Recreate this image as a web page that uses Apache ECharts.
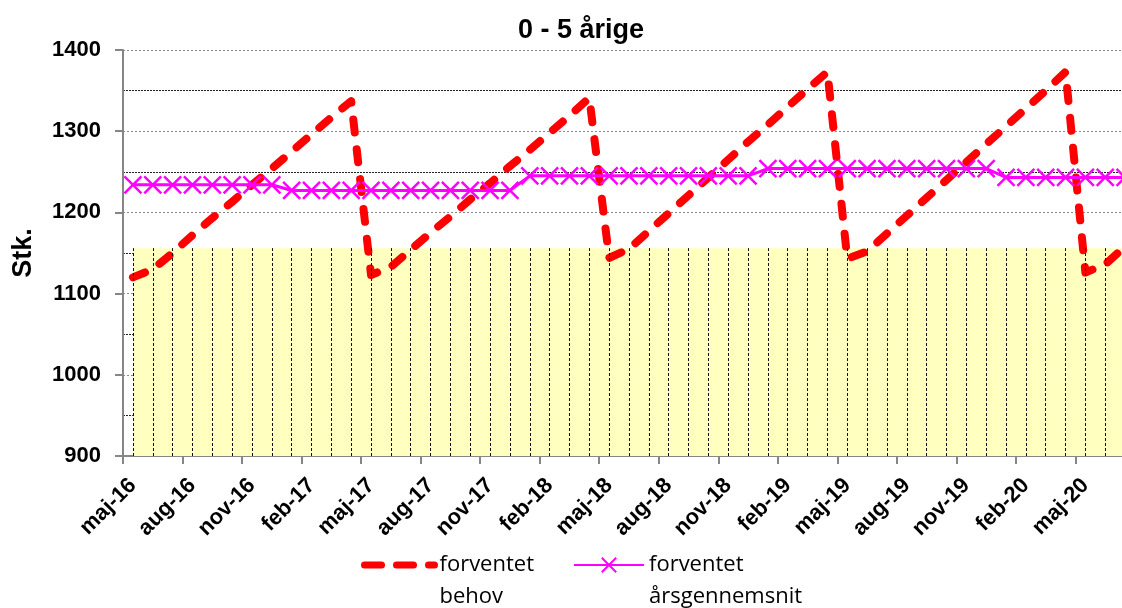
<!DOCTYPE html>
<html>
<head>
<meta charset="utf-8">
<script src="https://cdn.jsdelivr.net/npm/echarts@6/dist/echarts.min.js"></script>
<style>
  html, body { margin: 0; padding: 0; background: #ffffff; }
  #chart { width: 1122px; height: 608px; }
</style>
</head>
<body>
<div id="chart"></div>
<script>
// maaneder (kategorier) - sidste maaned ligger uden for billedet
const months = [
  "maj-16", "jun-16", "jul-16", "aug-16", "sep-16", "okt-16", "nov-16", "dec-16",
  "jan-17", "feb-17", "mar-17", "apr-17", "maj-17", "jun-17", "jul-17", "aug-17", "sep-17", "okt-17", "nov-17", "dec-17",
  "jan-18", "feb-18", "mar-18", "apr-18", "maj-18", "jun-18", "jul-18", "aug-18", "sep-18", "okt-18", "nov-18", "dec-18",
  "jan-19", "feb-19", "mar-19", "apr-19", "maj-19", "jun-19", "jul-19", "aug-19", "sep-19", "okt-19", "nov-19", "dec-19",
  "jan-20", "feb-20", "mar-20", "apr-20", "maj-20", "jun-20", "jul-20"
];

// forventet behov
const behov = [
  1120, 1130, 1150, 1172, 1193, 1213, 1234, 1254, 1275, 1296, 1317, 1337,
  1123, 1133, 1154, 1175, 1195, 1216, 1236, 1257, 1277, 1298, 1319, 1341,
  1144, 1155, 1177, 1199, 1221, 1243, 1265, 1287, 1308, 1330, 1352, 1373,
  1143, 1152, 1174, 1196, 1218, 1240, 1262, 1284, 1306, 1328, 1350, 1373,
  1126, 1136, 1158
];

// forventet aarsgennemsnit
const snit = [
  1234, 1234, 1234, 1234, 1234, 1234, 1234, 1234,
  1227, 1227, 1227, 1227, 1227, 1227, 1227, 1227, 1227, 1227, 1227, 1227,
  1245, 1245, 1245, 1245, 1245, 1245, 1245, 1245, 1245, 1245, 1245, 1245,
  1254, 1254, 1254, 1254, 1254, 1254, 1254, 1254, 1254, 1254, 1254, 1254,
  1243, 1243, 1243, 1243, 1243, 1243, 1243
];

// gult felt (kapacitet)
const kapacitet = [
  1156, 1156, 1156, 1156, 1156, 1156, 1156, 1156,
  1156, 1156, 1156, 1156, 1156, 1156, 1156, 1156, 1156, 1156, 1156, 1156,
  1156, 1156, 1156, 1156, 1156, 1156, 1156, 1156, 1156, 1156, 1156, 1156,
  1156, 1156, 1156, 1156, 1156, 1156, 1156, 1156, 1156, 1156, 1156, 1156,
  1156, 1156, 1156, 1156, 1156, 1156, 1156
];

const yTicks = { min: 900, max: 1400, step: 100 };

const axisGray = "#868686";
const boldFont = "Liberation Sans";
const redDash = [13, 17];

const chart = echarts.init(document.getElementById("chart"));

const option = {
  animation: false,
  backgroundColor: "#ffffff",
  title: {
    text: "0 - 5 årige",
    left: 513,
    top: 12,
    textStyle: {
      fontFamily: boldFont,
      fontWeight: "bold",
      fontSize: 27,
      color: "#000000"
    }
  },
  grid: {
    left: 123,
    top: 50,
    height: 406,
    width: 1012, // plottet fortsaetter ud over billedkanten
    containLabel: false,
    outerBoundsMode: "none"
  },
  legend: {
    data: [
      {
        name: "forventet\nbehov",
        itemStyle: { opacity: 0 },
        lineStyle: { width: 7, type: [17, 15], cap: "round" }
      },
      {
        name: "forventet\nårsgennemsnit",
        lineStyle: { width: 2 }
      }
    ],
    formatter: function(name) {
      // tom linje foran, saa ikonet flugter med foerste tekstlinje
      return " \n" + name;
    },
    left: 361,
    top: 517,
    padding: 0,
    itemWidth: 70,
    itemHeight: 18,
    itemGap: 39,
    textStyle: {
      fontFamily: "Open Sans",
      fontSize: 22,
      lineHeight: 32,
      color: "#000000"
    }
  },
  xAxis: {
    type: "category",
    data: months,
    boundaryGap: true,
    axisLine: {
      show: true,
      lineStyle: { color: axisGray, width: 2 }
    },
    axisTick: {
      show: true,
      interval: 2,
      length: 8,
      lineStyle: { color: axisGray, width: 2 }
    },
    axisLabel: {
      interval: 2,
      rotate: 45,
      margin: 26,
      fontFamily: boldFont,
      fontWeight: "bold",
      fontSize: 22,
      color: "#000000"
    },
    splitLine: { show: false }
  },
  yAxis: {
    type: "value",
    min: yTicks.min,
    max: yTicks.max,
    interval: yTicks.step,
    name: "Stk.",
    nameLocation: "middle",
    nameRotate: 90,
    nameGap: 86,
    nameTextStyle: {
      fontFamily: boldFont,
      fontWeight: "bold",
      fontSize: 27,
      color: "#000000"
    },
    axisLine: {
      show: true,
      lineStyle: { color: axisGray, width: 2 }
    },
    axisTick: {
      show: true,
      length: 8,
      lineStyle: { color: axisGray, width: 2 }
    },
    axisLabel: {
      margin: 22,
      formatter: function(v) {
        return String(v);
      },
      fontFamily: boldFont,
      fontWeight: "bold",
      fontSize: 22,
      color: "#000000"
    },
    splitLine: {
      show: true,
      lineStyle: { color: "#8a8a8a", type: [2, 2], width: 1 }
    },
    minorTick: { show: false, splitNumber: 2 },
    minorSplitLine: {
      show: true,
      lineStyle: { color: "#222222", type: [2, 1], width: 1 }
    }
  },
  series: [
    {
      name: "kapacitet",
      type: "line",
      data: kapacitet,
      symbol: "none",
      lineStyle: { width: 0 },
      areaStyle: { color: "#FFFFC0", opacity: 1, origin: "start" },
      z: 1,
      silent: true,
      markLine: {
        silent: true,
        symbol: "none",
        label: { show: false },
        lineStyle: { color: "#111111", width: 1, type: [3, 2] },
        data: months.map((m, i) => [
          { coord: [m, yTicks.min] },
          { coord: [m, kapacitet[i]] }
        ])
      }
    },
    {
      name: "forventet\nbehov",
      type: "line",
      data: behov,
      symbol: "none",
      z: 3,
      lineStyle: {
        color: "#FF0000",
        width: 8,
        type: redDash,
        cap: "round",
        join: "round"
      },
      itemStyle: { color: "#FF0000" }
    },
    {
      name: "forventet\nårsgennemsnit",
      type: "line",
      data: snit,
      symbol: "path://M0,0L10,10M10,0L0,10",
      symbolSize: 17,
      showAllSymbol: true,
      z: 4,
      lineStyle: { color: "#FF00FF", width: 3 },
      itemStyle: {
        color: "#FF00FF",
        borderColor: "#FF00FF",
        borderWidth: 2.5
      }
    }
  ]
};

chart.setOption(option);
</script>
</body>
</html>
